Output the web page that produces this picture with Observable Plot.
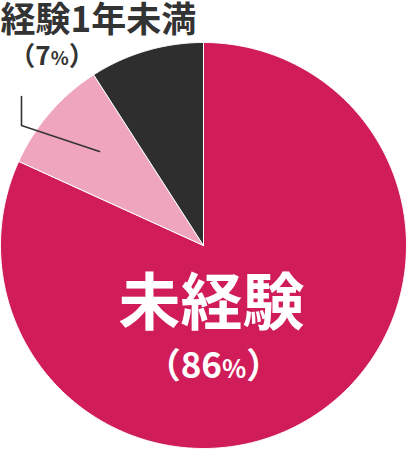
<!DOCTYPE html>
<html><head><meta charset="utf-8">
<script src="https://cdn.jsdelivr.net/npm/d3@7"></script>
<script src="https://cdn.jsdelivr.net/npm/@observablehq/plot@0.6"></script>
<style>
body{margin:0;background:#fff;}
svg{font-family:"Noto Sans CJK JP","Noto Sans",sans-serif;}
</style>
</head><body>
<div id="chart"></div>
<script>
// Data (slice order clockwise from 12 o'clock)
const categories = ["未経験", "経験1年未満", "その他"];
const shares = [81.8, 9.1, 9.1];          // angular share as drawn
const labelPercents = ["86", "7", null];   // printed percentages
const colors = ["#d11c5a", "#f0a5bf", "#2e2e2e"];

const slices = categories.map((c, i) => ({category: c, value: shares[i]}));
const arcs = d3.pie().sort(null).value(d => d.value)(slices);

// polygon vertices on unit circle
const pts = [];
arcs.forEach(a => {
  const c = a.data.category;
  pts.push({category: c, x: 0, y: 0});
  const n = Math.max(2, Math.ceil((a.endAngle - a.startAngle) / (Math.PI / 360)));
  for (let k = 0; k <= n; k++) {
    const t = a.startAngle + (a.endAngle - a.startAngle) * k / n;
    pts.push({category: c, x: Math.sin(t), y: Math.cos(t)});
  }
  pts.push({category: c, x: 0, y: 0});
});

// leader line for 経験1年未満 (unit-circle coords)
const leader = [
  {x: (21 - 203) / 203, y: (245 - 96) / 203},
  {x: (21 - 203) / 203, y: (245 - 125) / 203},
  {x: (99 - 203) / 203, y: (245 - 151) / 203}
];

const plot = Plot.plot({
  width: 407, height: 450,
  margin: 0,
  x: {domain: [-1, 1], range: [0, 406], axis: null},
  y: {domain: [-1, 1], range: [448, 42], axis: null},
  color: {domain: categories, range: colors},
  marks: [
    Plot.line(pts, {x: "x", y: "y", z: "category", fill: "category", stroke: "white", strokeWidth: 1, curve: "linear-closed"}),
    Plot.line(leader, {x: "x", y: "y", stroke: "#333", strokeWidth: 1.6}),
    Plot.text([categories[1]], {frameAnchor: "top-left", dx: 0, dy: 20.5, lineAnchor: "middle", textAnchor: "start", fontSize: 35, fontWeight: "bold", fill: "#333", text: d => d}),
    Plot.text([`（${labelPercents[1]}%）`], {frameAnchor: "top-left", dx: 51.5, dy: 56, lineAnchor: "middle", textAnchor: "middle", fontSize: 26, fontWeight: "bold", fill: "#333", text: d => d}),
    Plot.text([categories[0]], {frameAnchor: "top-left", dx: 211, dy: 305, lineAnchor: "middle", textAnchor: "middle", fontSize: 62, fontWeight: "bold", fill: "white", text: d => d}),
    Plot.text([`（${labelPercents[0]}%）`], {frameAnchor: "top-left", dx: 213, dy: 366, lineAnchor: "middle", textAnchor: "middle", fontSize: 35, fontWeight: "bold", fill: "white", text: d => d})
  ]
});

// make the % sign smaller, as in the original
d3.select(plot).selectAll("text").each(function() {
  const s = this.textContent;
  if (s.includes("%")) {
    const [a, b] = s.split("%");
    this.textContent = "";
    const t = d3.select(this);
    t.append("tspan").text(a);
    t.append("tspan").attr("font-size", "0.72em").text("%");
    t.append("tspan").text(b);
  }
});

document.getElementById("chart").appendChild(plot);
</script>
</body></html>
